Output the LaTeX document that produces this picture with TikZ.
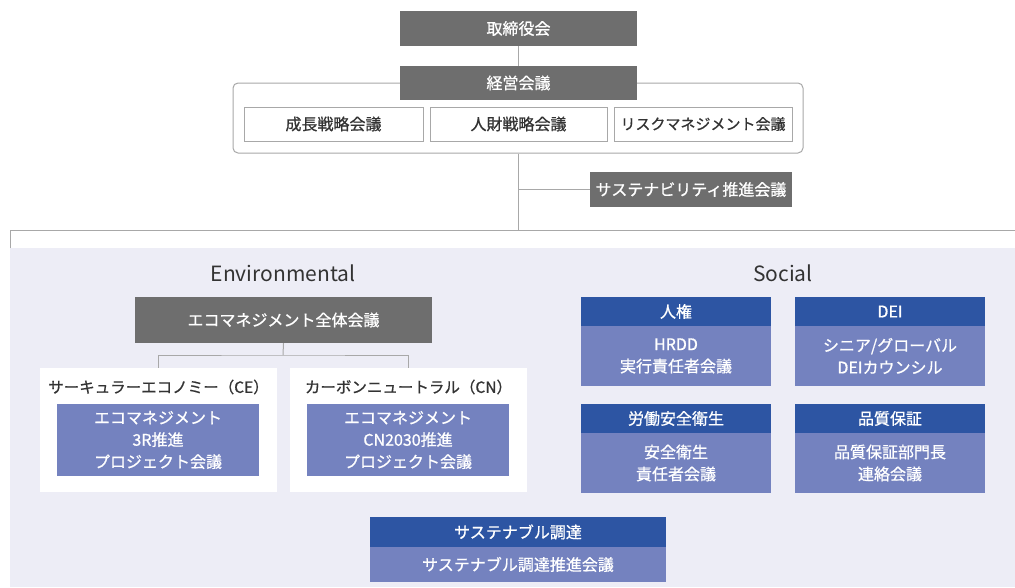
\documentclass[tikz,border=0pt]{standalone}
\usepackage{fontspec}
\setmainfont{Noto Sans CJK JP}[RawFeature={embolden=0.8}]
\newfontfamily\plainjp{Noto Sans CJK JP}
\definecolor{dgray}{HTML}{6E6E6E}
\definecolor{lgray}{HTML}{A8A8A8}
\definecolor{lav}{HTML}{EDEDF6}
\definecolor{hblue}{HTML}{2D55A3}
\definecolor{bblue}{HTML}{7482BF}
\definecolor{txt}{HTML}{333333}
\begin{document}
\begin{tikzpicture}[x=1pt,y=-1pt,
 base/.style={inner sep=0pt,font=\fontsize{16}{18}\selectfont},
 graybox/.style={base,fill=dgray,text=white},
 wbox/.style={base,draw=lgray,line width=0.8pt,fill=white,text=txt},
 conn/.style={draw=lgray,line width=1pt},
 hdr/.style={base,fill=hblue,text=white},
 bdy/.style={base,fill=bblue,text=white,align=center,font=\fontsize{16}{22}\selectfont},
 label/.style={base,text=txt,font=\fontsize{15.5}{18}\selectfont},
 head/.style={base,text=txt,font=\plainjp\fontsize{21}{24}\selectfont},
 panel/.style={fill=white,inner sep=0pt}]
\useasboundingbox (0,0) rectangle (1015,587);
\fill[white] (0,0) rectangle (1015,587);
\fill[lav] (10,248) rectangle (1015,587);

% top
\node[graybox,minimum width=237,minimum height=35] (tori) at (518.5,28.5) {取締役会};
\node[draw=lgray,line width=1pt,rounded corners=5pt,minimum width=570,minimum height=70,inner sep=0pt] (outer) at (518,118) {};
\node[graybox,minimum width=237,minimum height=34] (keiei) at (518.5,83) {経営会議};
\node[wbox,minimum width=179,minimum height=34] (gs) at (333.5,124) {成長戦略会議};
\node[wbox,minimum width=177,minimum height=34] (js) at (518.5,124) {人財戦略会議};
\node[wbox,minimum width=178,minimum height=34,font=\fontsize{15}{18}\selectfont] (rm) at (703,124) {リスクマネジメント会議};
\node[graybox,minimum width=202,minimum height=35] (sust) at (691,189.5) {サステナビリティ推進会議};

\coordinate (hm) at (518,230);
\coordinate (hl) at (10,230);
\coordinate (hr) at (1015,230);
\coordinate (tick) at (10,248);
\draw[conn] (tori.south) -- (keiei.north);
\draw[conn] (outer.south) -- (hm);
\draw[conn] (outer.south |- sust.west) -- (sust.west);
\draw[conn] (tick) -- (hl) -- (hr);

% Environmental
\node[head] (env) at (283,273) {Environmental};
\node[graybox,minimum width=297,minimum height=46] (eco) at (283.5,320) {エコマネジメント全体会議};
\node[panel,minimum width=237,minimum height=124] (ce) at (158.5,430) {};
\node[panel,minimum width=237,minimum height=124] (cn) at (408.5,430) {};
\node[label] (celab) at (158.5,387) {サーキュラーエコノミー（CE）};
\node[label] (cnlab) at (408.5,387) {カーボンニュートラル（CN）};
\node[bdy,minimum width=202,minimum height=72] (cep) at (158,440) {エコマネジメント\\3R推進\\プロジェクト会議};
\node[bdy,minimum width=202,minimum height=72] (cnp) at (408,440) {エコマネジメント\\CN2030推進\\プロジェクト会議};
\coordinate (j) at (283,355);
\draw[conn] (eco.south) -- (j);
\draw[conn] (ce.north) |- (j) -| (cn.north);

% Social
\node[head] (soc) at (783,273) {Social};
\node[hdr,minimum width=190,minimum height=29] (h1) at (676,311.5) {人権};
\node[bdy,minimum width=190,minimum height=60] (b1) at (676,356) {HRDD\\実行責任者会議};
\node[hdr,minimum width=190,minimum height=29] (h2) at (890,311.5) {DEI};
\node[bdy,minimum width=190,minimum height=60] (b2) at (890,356) {シニア/グローバル\\DEIカウンシル};
\node[hdr,minimum width=190,minimum height=29] (h3) at (676,418.5) {労働安全衛生};
\node[bdy,minimum width=190,minimum height=60] (b3) at (676,463) {安全衛生\\責任者会議};
\node[hdr,minimum width=190,minimum height=29] (h4) at (890,418.5) {品質保証};
\node[bdy,minimum width=190,minimum height=60] (b4) at (890,463) {品質保証部門長\\連絡会議};

% bottom
\node[hdr,minimum width=296,minimum height=30] (h5) at (518,532) {サステナブル調達};
\node[bdy,minimum width=296,minimum height=35] (b5) at (518,564.5) {サステナブル調達推進会議};
\end{tikzpicture}
\end{document}
